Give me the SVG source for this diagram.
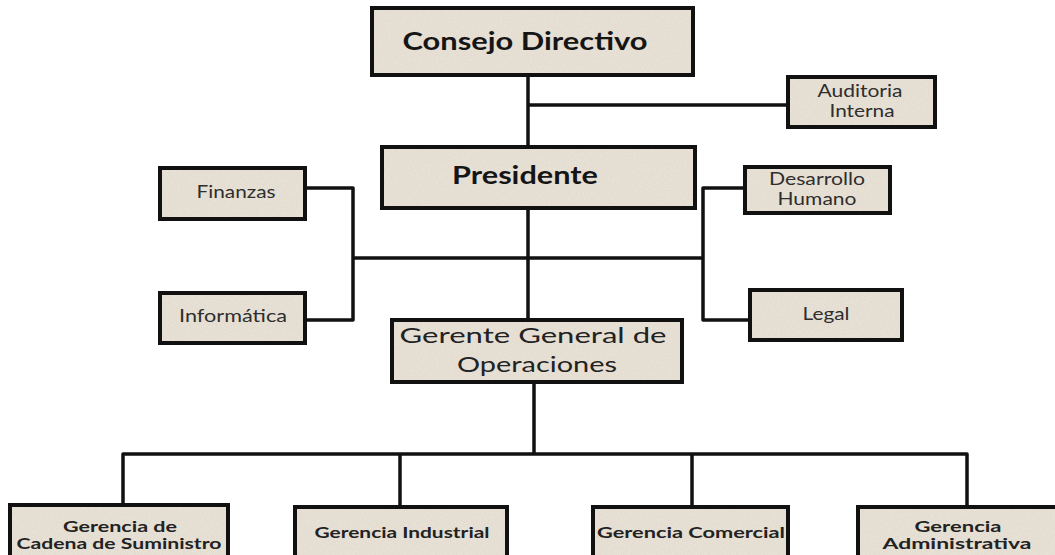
<svg xmlns="http://www.w3.org/2000/svg" width="1055" height="555" viewBox="0 0 1055 555">
<defs>
<filter id="grain">
<feTurbulence type="fractalNoise" baseFrequency="0.85" numOctaves="2" seed="4" result="n"/>
<feColorMatrix in="n" type="matrix" values="0 0 0 0 0.6  0 0 0 0 0.55  0 0 0 0 0.48  0 0 0 0.6 -0.22" result="s"/>
<feComposite in="s" in2="SourceGraphic" operator="in" result="t"/>
<feMerge><feMergeNode in="SourceGraphic"/><feMergeNode in="t"/></feMerge>
</filter>
</defs>
<style>
.bg{fill:#e8e1d6;filter:url(#grain)}
.bd{fill:none;stroke:#111;stroke-width:4}
.con{fill:none;stroke:#111;stroke-width:3.5;stroke-linejoin:round}
text{font-family:Lato,"Open Sans","Liberation Sans",sans-serif;text-anchor:middle}
.big{font-size:24px;font-weight:bold;fill:#151515}
.mid{font-size:22px;fill:#222}
.sm{font-size:17px;fill:#2e2e2e}
.bt{font-size:16px;font-weight:bold;fill:#222}
.bt2{font-size:15px;font-weight:bold;fill:#222}
</style>
<rect width="1055" height="555" fill="#fff"/>
<g id="connectors">
<path class="con" d="M528 75V147"/>
<path class="con" d="M528 105H790"/>
<path class="con" d="M528 208V320"/>
<path class="con" d="M353 258H703"/>
<path class="con" d="M305 188H353V320H305"/>
<path class="con" d="M745 188H703V320H750"/>
<path class="con" d="M534 382V454"/>
<path class="con" d="M123 505V454H967V507"/>
<path class="con" d="M400 454V507"/>
<path class="con" d="M692 454V507"/>
</g>
<g id="consejo"><rect class="bg" x="372" y="8" width="321" height="67"/><rect class="bd" x="372" y="8" width="321" height="67"/><text class="big" x="525" y="50" textLength="245" lengthAdjust="spacingAndGlyphs">Consejo Directivo</text></g>
<g id="auditoria"><rect class="bg" x="788" y="77" width="147" height="50"/><rect class="bd" x="788" y="77" width="147" height="50"/><text class="sm" x="860" y="97" textLength="85" lengthAdjust="spacingAndGlyphs">Auditoria</text><text class="sm" x="862" y="117" textLength="65" lengthAdjust="spacingAndGlyphs">Interna</text></g>
<g id="presidente"><rect class="bg" x="382" y="147" width="313" height="61"/><rect class="bd" x="382" y="147" width="313" height="61"/><text class="big" x="525" y="184" textLength="146" lengthAdjust="spacingAndGlyphs">Presidente</text></g>
<g id="finanzas"><rect class="bg" x="160" y="168" width="145" height="51"/><rect class="bd" x="160" y="168" width="145" height="51"/><text class="sm" x="236" y="198" textLength="79" lengthAdjust="spacingAndGlyphs">Finanzas</text></g>
<g id="informatica"><rect class="bg" x="160" y="293" width="145" height="50"/><rect class="bd" x="160" y="293" width="145" height="50"/><text class="sm" x="233" y="322" textLength="108" lengthAdjust="spacingAndGlyphs">Informática</text></g>
<g id="desarrollo"><rect class="bg" x="745" y="167" width="145" height="46"/><rect class="bd" x="745" y="167" width="145" height="46"/><text class="sm" x="817" y="185" textLength="96" lengthAdjust="spacingAndGlyphs">Desarrollo</text><text class="sm" x="817" y="205" textLength="79" lengthAdjust="spacingAndGlyphs">Humano</text></g>
<g id="legal"><rect class="bg" x="750" y="290" width="152" height="50"/><rect class="bd" x="750" y="290" width="152" height="50"/><text class="sm" x="826" y="320" textLength="47" lengthAdjust="spacingAndGlyphs">Legal</text></g>
<g id="gerente"><rect class="bg" x="392" y="320" width="290" height="62"/><rect class="bd" x="392" y="320" width="290" height="62"/><text class="mid" x="533" y="343" textLength="267" lengthAdjust="spacingAndGlyphs">Gerente General de</text><text class="mid" x="537" y="372" textLength="160" lengthAdjust="spacingAndGlyphs">Operaciones</text></g>
<g id="cadena"><rect class="bg" x="10" y="505" width="218" height="70"/><rect class="bd" x="10" y="505" width="218" height="70"/><text class="bt2" x="120" y="532" textLength="114" lengthAdjust="spacingAndGlyphs">Gerencia de</text><text class="bt2" x="119" y="549" textLength="205" lengthAdjust="spacingAndGlyphs">Cadena de Suministro</text></g>
<g id="industrial"><rect class="bg" x="295" y="507" width="212" height="68"/><rect class="bd" x="295" y="507" width="212" height="68"/><text class="bt" x="402" y="538" textLength="175" lengthAdjust="spacingAndGlyphs">Gerencia Industrial</text></g>
<g id="comercial"><rect class="bg" x="593" y="507" width="195" height="68"/><rect class="bd" x="593" y="507" width="195" height="68"/><text class="bt" x="691" y="538" textLength="188" lengthAdjust="spacingAndGlyphs">Gerencia Comercial</text></g>
<g id="administrativa"><rect class="bg" x="858" y="507" width="210" height="68"/><rect class="bd" x="858" y="507" width="210" height="68"/><text class="bt2" x="958" y="532" textLength="87" lengthAdjust="spacingAndGlyphs">Gerencia</text><text class="bt2" x="957" y="549" textLength="149" lengthAdjust="spacingAndGlyphs">Administrativa</text></g>
</svg>
